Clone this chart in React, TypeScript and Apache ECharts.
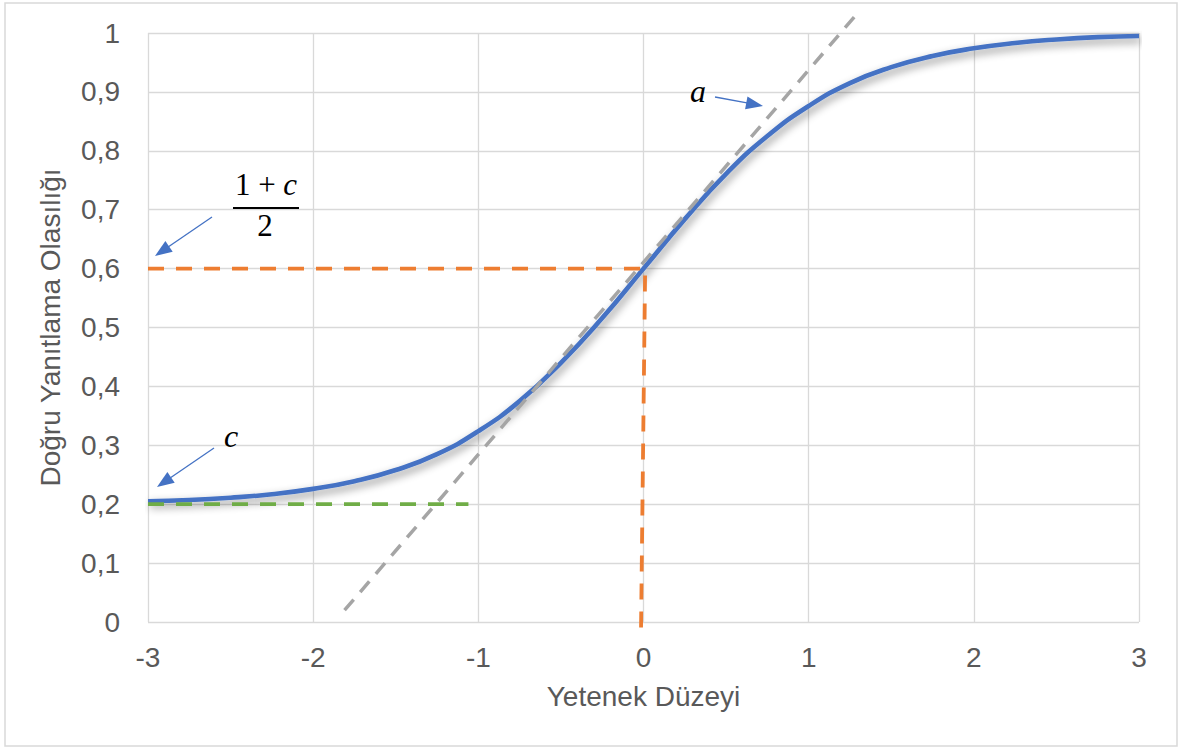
import React, { useEffect, useRef } from "react";
import * as echarts from "echarts";

// Item characteristic curve
const theta = [-3, -2.75, -2.5, -2.25, -2, -1.75, -1.5, -1.25, -1, -0.75, -0.5, -0.25, 0, 0.25, 0.5, 0.75, 1, 1.25, 1.5, 1.75, 2, 2.25, 2.5, 2.75, 3];
const prob = [0.205, 0.207, 0.211, 0.217, 0.226, 0.239, 0.258, 0.285, 0.324, 0.375, 0.44, 0.516, 0.6, 0.684, 0.761, 0.825, 0.876, 0.915, 0.942, 0.961, 0.974, 0.983, 0.989, 0.993, 0.995];

// Tangent line (slope a)
const tangentX = [-1.81, 1.3];
const tangentY = [0.02, 1.035];

// Orange guide to (1+c)/2
const halfX = [-3, 0.01, -0.015];
const halfY = [0.6, 0.6, -0.013];

// Green guide at c
const cX = [-3, -1.06];
const cY = [0.2, 0.2];

const xTicks = { min: -3, max: 3, interval: 1 };
const yTicks = { min: 0, max: 1, interval: 0.1 };

const zip = (xs: number[], ys: number[]) => xs.map((x, i) => [x, ys[i]]);

function arrow(x1: number, y1: number, x2: number, y2: number) {
  const dx = x2 - x1, dy = y2 - y1;
  const L = Math.hypot(dx, dy);
  const ux = dx / L, uy = dy / L;
  const hl = 17, hw = 6.5;
  const bx = x2 - ux * hl, by = y2 - uy * hl;
  const color = "#4472C4";
  return [
    { type: "line", shape: { x1, y1, x2: bx + ux * 2, y2: by + uy * 2 }, style: { stroke: color, lineWidth: 1.3 }, z: 10 },
    {
      type: "polygon",
      shape: { points: [[x2, y2], [bx - uy * hw, by + ux * hw], [bx + uy * hw, by - ux * hw]] },
      style: { fill: color },
      z: 10,
    },
  ];
}

export default function App() {
  const ref = useRef<HTMLDivElement>(null);
  useEffect(() => {
    if (!ref.current) return;
    const chart = echarts.init(ref.current, null, { renderer: "svg" });
    const axisFont = { color: "#595959", fontSize: 28, fontFamily: "Liberation Sans, Arial, sans-serif" };
    const mathFont = "Liberation Serif, DejaVu Serif, serif";
    chart.setOption({
      animation: false,
      backgroundColor: "#ffffff",
      grid: { left: 148, right: 39, top: 33, bottom: 125, containLabel: false },
      xAxis: {
        type: "value",
        ...xTicks,
        axisLine: { show: false },
        axisTick: { show: false },
        splitLine: { show: true, lineStyle: { color: "#D9D9D9", width: 1.3 } },
        axisLabel: { ...axisFont, margin: 21 },
        name: "Yetenek Düzeyi",
        nameLocation: "middle",
        nameGap: 60,
        nameTextStyle: { ...axisFont },
      },
      yAxis: {
        type: "value",
        ...yTicks,
        axisLine: { show: false },
        axisTick: { show: false },
        splitLine: { show: true, lineStyle: { color: "#D9D9D9", width: 1.3 } },
        axisLabel: {
          ...axisFont,
          margin: 28,
          formatter: (v: number) => String(+v.toFixed(1)).replace(".", ","),
        },
        name: "Doğru Yanıtlama Olasılığı",
        nameLocation: "middle",
        nameGap: 84,
        nameTextStyle: { ...axisFont },
      },
      series: [
        {
          type: "line",
          data: zip(theta, prob),
          smooth: true,
          showSymbol: false,
          symbol: "none",
          lineStyle: {
            color: "#4472C4",
            width: 4.6,
            shadowColor: "rgba(0,0,0,0.45)",
            shadowBlur: 8,
            shadowOffsetX: 2,
            shadowOffsetY: 4,
          },
          z: 2,
        },
        {
          type: "line",
          data: zip(tangentX, tangentY),
          symbol: "none",
          clip: false,
          lineStyle: { color: "#A5A5A5", width: 3.5, type: [14, 10] },
          z: 3,
        },
        {
          type: "line",
          data: zip(halfX, halfY),
          symbol: "none",
          clip: false,
          lineStyle: { color: "#ED7D31", width: 3.8, type: [16, 12] },
          z: 4,
        },
        {
          type: "line",
          data: zip(cX, cY),
          symbol: "none",
          clip: false,
          lineStyle: { color: "#70AD47", width: 3.8, type: [16, 12] },
          z: 4,
        },
      ],
      graphic: [
        {
          type: "rect",
          shape: { x: 5, y: 3, width: 1172, height: 743 },
          style: { fill: "none", stroke: "#D9D9D9", lineWidth: 1.5 },
          silent: true,
        },
        {
          type: "text",
          x: 698,
          y: 91,
          style: { text: "a", font: `italic 32px ${mathFont}`, fill: "#000", align: "center", verticalAlign: "middle" },
          z: 10,
        },
        {
          type: "text",
          x: 231,
          y: 436,
          style: { text: "c", font: `italic 32px ${mathFont}`, fill: "#000", align: "center", verticalAlign: "middle" },
          z: 10,
        },
        {
          type: "text",
          x: 266,
          y: 184,
          style: {
            text: "{n|1 + }{i|c}",
            align: "center",
            verticalAlign: "middle",
            rich: {
              n: { fontSize: 31, fontFamily: mathFont, color: "#000" },
              i: { fontSize: 31, fontFamily: mathFont, fontStyle: "italic", color: "#000" },
            },
          },
          z: 10,
        },
        {
          type: "line",
          shape: { x1: 233, y1: 208, x2: 299, y2: 208 },
          style: { stroke: "#000", lineWidth: 2 },
          z: 10,
        },
        {
          type: "text",
          x: 265,
          y: 225,
          style: { text: "2", font: `31px ${mathFont}`, fill: "#000", align: "center", verticalAlign: "middle" },
          z: 10,
        },
        ...arrow(715, 97, 763, 106),
        ...arrow(214, 448, 157, 487),
        ...arrow(212, 217, 155, 256),
      ],
    });
    return () => chart.dispose();
  }, []);
  return <div ref={ref} style={{ position: "fixed", left: 0, top: 0, width: 1178, height: 747 }} />;
}
